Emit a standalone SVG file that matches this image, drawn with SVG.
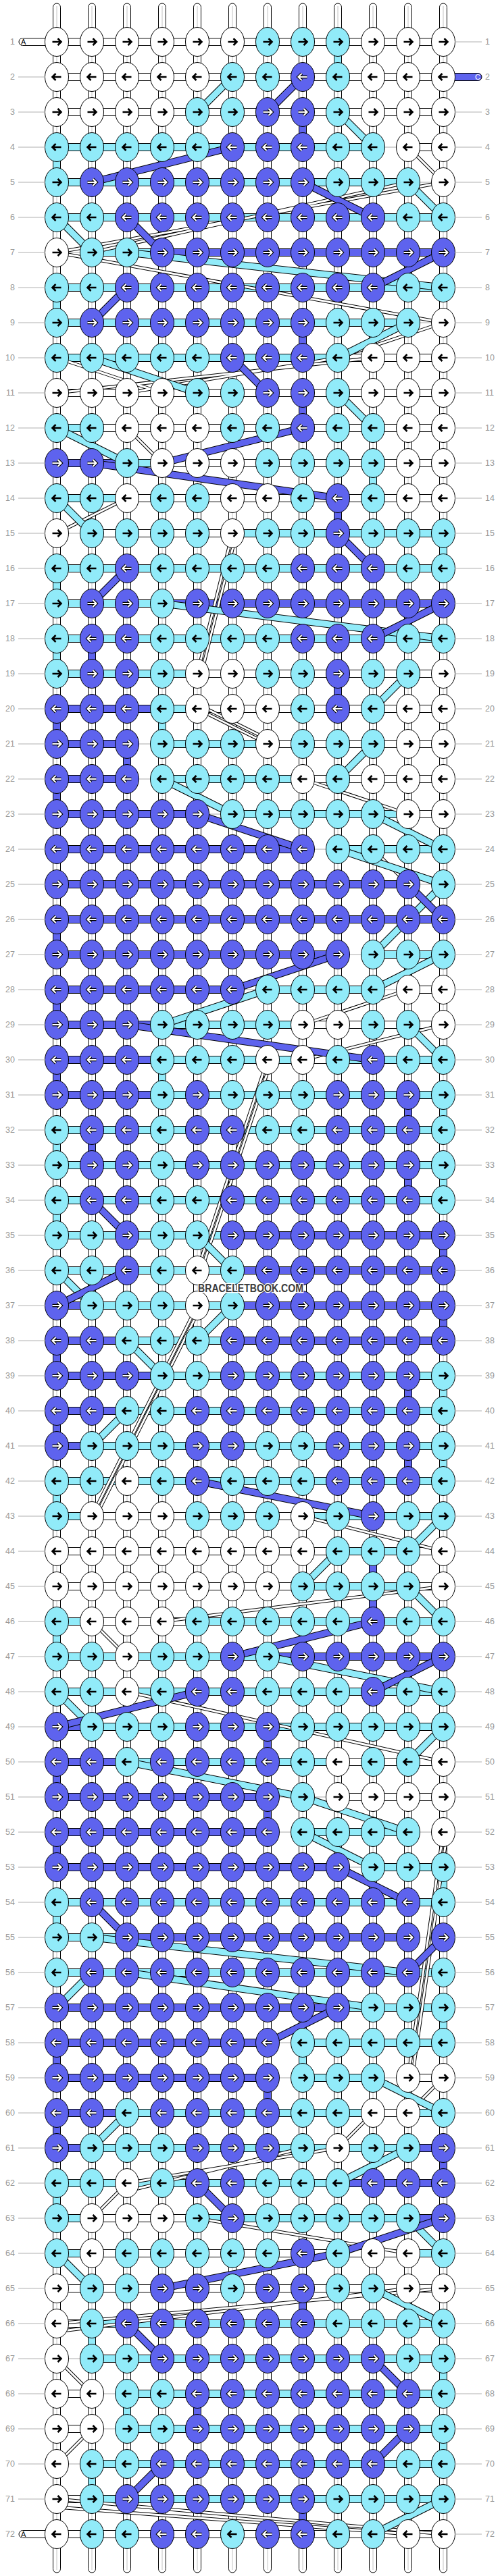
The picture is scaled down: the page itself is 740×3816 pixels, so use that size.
<svg xmlns="http://www.w3.org/2000/svg" xmlns:xlink="http://www.w3.org/1999/xlink" width="740" height="3816" viewBox="0 0 740 3816">
<style>
.w{fill:#fff;stroke:#000;stroke-width:1}
.c{fill:#91ebf9;stroke:#000;stroke-width:1}
.b{fill:#5e63ee;stroke:#000;stroke-width:1}
.g{stroke:#aaa;stroke-width:1}
.vc{stroke:#c4c4c4;stroke-width:1}
.ak{fill:none;stroke:#000;stroke-width:2.6}
.ao{fill:none;stroke:#000;stroke-width:4.4}
.aw{fill:none;stroke:#fff;stroke-width:2.2}
.lb{font-family:"Liberation Sans",Arial,sans-serif;font-size:12.5px;fill:#999;dominant-baseline:central}
.ld{stroke:#b0b0b0;stroke-width:1;fill:none}
.pl{font-family:"Liberation Sans",Arial,sans-serif;font-size:11px;dominant-baseline:central}
.wm{font-family:"Liberation Sans",Arial,sans-serif;font-weight:bold;font-size:16px;fill:#3c3c3c;stroke:#fff;stroke-width:2.5;paint-order:stroke;dominant-baseline:central}
</style>
<defs>
<path id="pr" d="M-6.5 0H6M1.5-5L6.5 0 1.5 5"/>
<path id="pl" d="M6.5 0H-6M-1.5-5L-6.5 0-1.5 5"/>
<g id="W1"><ellipse rx="17.5" ry="21.5" class="w"/><use href="#pr" class="ak"/></g>
<g id="W0"><ellipse rx="17.5" ry="21.5" class="w"/><use href="#pl" class="ak"/></g>
<g id="C1"><ellipse rx="17.5" ry="21.5" class="c"/><use href="#pr" class="ak"/></g>
<g id="C0"><ellipse rx="17.5" ry="21.5" class="c"/><use href="#pl" class="ak"/></g>
<g id="B1"><ellipse rx="17.5" ry="21.5" class="b"/><use href="#pr" class="ao"/><use href="#pr" class="aw"/></g>
<g id="B0"><ellipse rx="17.5" ry="21.5" class="b"/><use href="#pl" class="ao"/><use href="#pl" class="aw"/></g>
<path id="dW" d="M604 218L656 270M656 270L84 374M604 270L136 374M84 374L656 478M656 478L500 530M552 530L84 582M500 530L188 582M84 530L240 582M188 634L240 686M188 738L84 790M344 790L292 998M350 790L298 998M292 1050L396 1102M298 1046L402 1098M448 1154L604 1206M552 1258L604 1310M604 1466L448 1518M656 1518L448 1570M396 1570L292 1882M402 1570L298 1882M292 1934L136 2246M298 1934L142 2246M448 2246L656 2298M656 2350L240 2402M136 2402L188 2454M188 2506L656 2610M656 2714L604 3078M662 2714L610 3078M656 3078L604 3130M552 3130L500 3182M500 3182L188 3234M448 3182L188 3246M188 3234L136 3286M292 3286L604 3338M656 3390L84 3442M604 3390L84 3454M84 3494L136 3546M136 3598L84 3650M84 3702L656 3754M84 3714L604 3754"/>
<path id="dC" d="M344 114L292 166M500 166L552 218M604 270L656 322M84 322L136 374M188 374L656 426M604 478L500 530M136 530L292 582M500 582L552 634M84 634L188 686M84 738L136 790M240 894L656 946M604 998L552 1050M552 1102L500 1154M240 1154L344 1206M552 1206L656 1258M500 1258L656 1310M656 1310L552 1414M656 1414L552 1466M396 1466L240 1518M604 1518L656 1570M292 1830L344 1882M84 1882L136 1934M344 1934L292 1986M188 1986L240 2038M188 2090L136 2142M656 2246L604 2298M500 2298L448 2350M604 2350L656 2402M396 2454L656 2506M84 2506L136 2558M656 2558L604 2610M188 2610L448 2662M448 2662L604 2714M448 2714L552 2766M136 2870L604 2922M136 2922L84 2974M188 2922L552 2974M552 3078L656 3130M188 3130L136 3182M604 3182L500 3234M604 3286L656 3338M84 3338L136 3390M552 3390L656 3442M656 3702L552 3754"/>
<path id="dB" d="M448 114L396 166M344 218L136 270M448 270L552 322M188 322L240 374M656 374L552 426M188 426L136 478M344 530L396 582M448 634L240 686M136 686L500 738M500 790L552 842M188 842L136 894M656 894L552 946M292 1206L448 1258M604 1310L656 1362M500 1414L344 1466M188 1518L552 1570M136 1778L188 1830M188 1882L84 1934M292 2194L552 2246M552 2402L344 2454M656 2454L552 2506M292 2506L84 2558M500 2766L604 2818M136 2818L188 2870M656 2870L604 2922M500 2974L396 3026M292 3234L344 3286M656 3286L500 3338M500 3338L240 3390M188 3442L240 3494M552 3494L604 3546M604 3598L552 3650M240 3650L188 3702"/>
</defs>
<g id="connectors">
<g id="strands">
<rect x="78.5" y="5" width="11" height="3806" rx="5.5" class="w"/><rect x="130.5" y="5" width="11" height="3806" rx="5.5" class="w"/><rect x="182.5" y="5" width="11" height="3806" rx="5.5" class="w"/><rect x="234.5" y="5" width="11" height="3806" rx="5.5" class="w"/><rect x="286.5" y="5" width="11" height="3806" rx="5.5" class="w"/><rect x="338.5" y="5" width="11" height="3806" rx="5.5" class="w"/><rect x="390.5" y="5" width="11" height="3806" rx="5.5" class="w"/><rect x="442.5" y="5" width="11" height="3806" rx="5.5" class="w"/><rect x="494.5" y="5" width="11" height="3806" rx="5.5" class="w"/><rect x="546.5" y="5" width="11" height="3806" rx="5.5" class="w"/><rect x="598.5" y="5" width="11" height="3806" rx="5.5" class="w"/><rect x="650.5" y="5" width="11" height="3806" rx="5.5" class="w"/>
<path class="vc" d="M84 9V3807M136 9V3807M188 9V3807M240 9V3807M292 9V3807M344 9V3807M396 9V3807M448 9V3807M500 9V3807M552 9V3807M604 9V3807M656 9V3807"/>
<path class="c" d="M494.5 62h11v52h-11zM78.5 218h11v52h-11zM78.5 426h11v52h-11zM546.5 686h11v52h-11zM650.5 790h11v52h-11zM78.5 842h11v52h-11zM78.5 946h11v52h-11zM234.5 1050h11v52h-11zM234.5 1570h11v52h-11zM650.5 1622h11v52h-11zM78.5 1674h11v52h-11zM650.5 1726h11v52h-11zM78.5 1778h11v52h-11zM650.5 2038h11v52h-11zM650.5 2142h11v52h-11zM78.5 2194h11v52h-11zM78.5 2402h11v52h-11zM650.5 2766h11v52h-11zM78.5 2818h11v52h-11zM650.5 2974h11v52h-11zM442.5 3026h11v52h-11zM78.5 3234h11v52h-11zM130.5 3442h11v52h-11zM650.5 3494h11v52h-11zM182.5 3546h11v52h-11zM650.5 3598h11v52h-11zM130.5 3650h11v52h-11z"/>
<path class="b" d="M442.5 166h11v52h-11zM442.5 478h11v52h-11zM442.5 582h11v52h-11zM494.5 738h11v52h-11zM130.5 946h11v52h-11zM494.5 998h11v52h-11zM78.5 1050h11v52h-11zM182.5 1102h11v52h-11zM78.5 1154h11v52h-11zM78.5 1362h11v52h-11zM78.5 1466h11v52h-11zM78.5 1570h11v52h-11zM598.5 1622h11v52h-11zM130.5 1674h11v52h-11zM598.5 1726h11v52h-11zM650.5 1830h11v52h-11zM650.5 1934h11v52h-11zM78.5 1986h11v52h-11zM598.5 2038h11v52h-11zM78.5 2090h11v52h-11zM598.5 2142h11v52h-11zM546.5 2298h11v52h-11zM546.5 2350h11v52h-11zM390.5 2558h11v52h-11zM78.5 2610h11v52h-11zM390.5 2662h11v52h-11zM78.5 2714h11v52h-11zM78.5 3026h11v52h-11zM390.5 3078h11v52h-11zM78.5 3130h11v52h-11zM650.5 3182h11v52h-11zM442.5 3390h11v52h-11zM286.5 3546h11v52h-11zM442.5 3702h11v52h-11z"/>
</g>
<g id="bars">
<g transform="translate(0,62)"><rect x="84" y="-5.5" width="572" height="11" class="w"/></g>
<g transform="translate(0,114)"><rect x="84" y="-5.5" width="572" height="11" class="w"/></g>
<g transform="translate(0,166)"><rect x="84" y="-5.5" width="572" height="11" class="w"/></g>
<g transform="translate(0,218)"><rect x="84" y="-5.5" width="468" height="11" class="c"/><path class="g" d="M552 0H604"/><rect x="604" y="-5.5" width="52" height="11" class="w"/></g>
<g transform="translate(0,270)"><rect x="84" y="-5.5" width="520" height="11" class="c"/><path class="g" d="M604 0H656"/></g>
<g transform="translate(0,322)"><rect x="84" y="-5.5" width="572" height="11" class="c"/></g>
<g transform="translate(0,374)"><path class="g" d="M84 0H136"/><rect x="136" y="-5.5" width="104" height="11" class="c"/><rect x="240" y="-5.5" width="416" height="11" class="b"/></g>
<g transform="translate(0,426)"><rect x="84" y="-5.5" width="572" height="11" class="c"/></g>
<g transform="translate(0,478)"><rect x="84" y="-5.5" width="520" height="11" class="c"/><path class="g" d="M604 0H656"/></g>
<g transform="translate(0,530)"><rect x="84" y="-5.5" width="416" height="11" class="c"/><rect x="500" y="-5.5" width="156" height="11" class="w"/></g>
<g transform="translate(0,582)"><rect x="84" y="-5.5" width="572" height="11" class="w"/></g>
<g transform="translate(0,634)"><rect x="84" y="-5.5" width="52" height="11" class="c"/><rect x="136" y="-5.5" width="520" height="11" class="w"/></g>
<g transform="translate(0,686)"><rect x="84" y="-5.5" width="104" height="11" class="b"/><rect x="188" y="-5.5" width="52" height="11" class="c"/><rect x="240" y="-5.5" width="416" height="11" class="w"/></g>
<g transform="translate(0,738)"><rect x="84" y="-5.5" width="104" height="11" class="c"/><rect x="188" y="-5.5" width="468" height="11" class="w"/></g>
<g transform="translate(0,790)"><path class="g" d="M84 0H136"/><rect x="136" y="-5.5" width="208" height="11" class="w"/><rect x="344" y="-5.5" width="312" height="11" class="c"/></g>
<g transform="translate(0,842)"><rect x="84" y="-5.5" width="572" height="11" class="c"/></g>
<g transform="translate(0,894)"><rect x="84" y="-5.5" width="156" height="11" class="c"/><rect x="240" y="-5.5" width="416" height="11" class="b"/></g>
<g transform="translate(0,946)"><rect x="84" y="-5.5" width="572" height="11" class="c"/></g>
<g transform="translate(0,998)"><rect x="84" y="-5.5" width="208" height="11" class="c"/><rect x="292" y="-5.5" width="364" height="11" class="w"/></g>
<g transform="translate(0,1050)"><rect x="84" y="-5.5" width="156" height="11" class="b"/><rect x="240" y="-5.5" width="52" height="11" class="c"/><rect x="292" y="-5.5" width="364" height="11" class="w"/></g>
<g transform="translate(0,1102)"><rect x="84" y="-5.5" width="104" height="11" class="b"/><path class="g" d="M188 0H240"/><rect x="240" y="-5.5" width="156" height="11" class="c"/><rect x="396" y="-5.5" width="260" height="11" class="w"/></g>
<g transform="translate(0,1154)"><rect x="84" y="-5.5" width="104" height="11" class="b"/><path class="g" d="M188 0H240"/><rect x="240" y="-5.5" width="208" height="11" class="c"/><rect x="448" y="-5.5" width="208" height="11" class="w"/></g>
<g transform="translate(0,1206)"><rect x="84" y="-5.5" width="208" height="11" class="b"/><path class="g" d="M292 0H344"/><rect x="344" y="-5.5" width="260" height="11" class="c"/><rect x="604" y="-5.5" width="52" height="11" class="w"/></g>
<g transform="translate(0,1258)"><rect x="84" y="-5.5" width="364" height="11" class="b"/><path class="g" d="M448 0H500"/><rect x="500" y="-5.5" width="156" height="11" class="c"/></g>
<g transform="translate(0,1310)"><rect x="84" y="-5.5" width="520" height="11" class="b"/><path class="g" d="M604 0H656"/></g>
<g transform="translate(0,1362)"><rect x="84" y="-5.5" width="572" height="11" class="b"/></g>
<g transform="translate(0,1414)"><rect x="84" y="-5.5" width="416" height="11" class="b"/><path class="g" d="M500 0H552"/><rect x="552" y="-5.5" width="104" height="11" class="c"/></g>
<g transform="translate(0,1466)"><rect x="84" y="-5.5" width="260" height="11" class="b"/><path class="g" d="M344 0H396M552 0H604"/><rect x="396" y="-5.5" width="156" height="11" class="c"/><rect x="604" y="-5.5" width="52" height="11" class="w"/></g>
<g transform="translate(0,1518)"><rect x="84" y="-5.5" width="156" height="11" class="b"/><rect x="240" y="-5.5" width="208" height="11" class="c"/><rect x="448" y="-5.5" width="208" height="11" class="w"/></g>
<g transform="translate(0,1570)"><rect x="84" y="-5.5" width="156" height="11" class="b"/><rect x="240" y="-5.5" width="208" height="11" class="c"/><rect x="448" y="-5.5" width="52" height="11" class="w"/><rect x="500" y="-5.5" width="156" height="11" class="c"/></g>
<g transform="translate(0,1622)"><rect x="84" y="-5.5" width="156" height="11" class="b"/><rect x="240" y="-5.5" width="416" height="11" class="c"/></g>
<g transform="translate(0,1674)"><rect x="84" y="-5.5" width="572" height="11" class="c"/></g>
<g transform="translate(0,1726)"><rect x="84" y="-5.5" width="572" height="11" class="c"/></g>
<g transform="translate(0,1778)"><rect x="84" y="-5.5" width="572" height="11" class="c"/></g>
<g transform="translate(0,1830)"><rect x="84" y="-5.5" width="260" height="11" class="c"/><rect x="344" y="-5.5" width="312" height="11" class="b"/></g>
<g transform="translate(0,1882)"><rect x="84" y="-5.5" width="260" height="11" class="c"/><rect x="344" y="-5.5" width="312" height="11" class="b"/></g>
<g transform="translate(0,1934)"><rect x="84" y="-5.5" width="52" height="11" class="b"/><rect x="136" y="-5.5" width="208" height="11" class="c"/><rect x="344" y="-5.5" width="312" height="11" class="b"/></g>
<g transform="translate(0,1986)"><rect x="84" y="-5.5" width="104" height="11" class="b"/><rect x="188" y="-5.5" width="156" height="11" class="c"/><rect x="344" y="-5.5" width="312" height="11" class="b"/></g>
<g transform="translate(0,2038)"><rect x="84" y="-5.5" width="156" height="11" class="b"/><rect x="240" y="-5.5" width="416" height="11" class="c"/></g>
<g transform="translate(0,2090)"><rect x="84" y="-5.5" width="104" height="11" class="b"/><rect x="188" y="-5.5" width="468" height="11" class="c"/></g>
<g transform="translate(0,2142)"><rect x="84" y="-5.5" width="52" height="11" class="b"/><rect x="136" y="-5.5" width="520" height="11" class="c"/></g>
<g transform="translate(0,2194)"><rect x="84" y="-5.5" width="572" height="11" class="c"/></g>
<g transform="translate(0,2246)"><rect x="84" y="-5.5" width="52" height="11" class="c"/><rect x="136" y="-5.5" width="312" height="11" class="w"/><rect x="448" y="-5.5" width="208" height="11" class="c"/></g>
<g transform="translate(0,2298)"><rect x="84" y="-5.5" width="416" height="11" class="w"/><rect x="500" y="-5.5" width="104" height="11" class="c"/><rect x="604" y="-5.5" width="52" height="11" class="w"/></g>
<g transform="translate(0,2350)"><rect x="84" y="-5.5" width="364" height="11" class="w"/><rect x="448" y="-5.5" width="156" height="11" class="c"/><rect x="604" y="-5.5" width="52" height="11" class="w"/></g>
<g transform="translate(0,2402)"><rect x="84" y="-5.5" width="52" height="11" class="c"/><rect x="136" y="-5.5" width="156" height="11" class="w"/><rect x="292" y="-5.5" width="364" height="11" class="c"/></g>
<g transform="translate(0,2454)"><rect x="84" y="-5.5" width="312" height="11" class="c"/><rect x="396" y="-5.5" width="260" height="11" class="b"/></g>
<g transform="translate(0,2506)"><rect x="84" y="-5.5" width="572" height="11" class="c"/></g>
<g transform="translate(0,2558)"><rect x="84" y="-5.5" width="52" height="11" class="b"/><rect x="136" y="-5.5" width="520" height="11" class="c"/></g>
<g transform="translate(0,2610)"><rect x="84" y="-5.5" width="104" height="11" class="b"/><rect x="188" y="-5.5" width="312" height="11" class="c"/><rect x="500" y="-5.5" width="156" height="11" class="w"/></g>
<g transform="translate(0,2662)"><rect x="84" y="-5.5" width="312" height="11" class="b"/><path class="g" d="M396 0H500"/><rect x="500" y="-5.5" width="156" height="11" class="w"/></g>
<g transform="translate(0,2714)"><rect x="84" y="-5.5" width="312" height="11" class="b"/><path class="g" d="M396 0H448M604 0H656"/><rect x="448" y="-5.5" width="156" height="11" class="c"/></g>
<g transform="translate(0,2766)"><rect x="84" y="-5.5" width="416" height="11" class="b"/><path class="g" d="M500 0H552"/><rect x="552" y="-5.5" width="104" height="11" class="c"/></g>
<g transform="translate(0,2818)"><rect x="84" y="-5.5" width="572" height="11" class="c"/></g>
<g transform="translate(0,2870)"><rect x="84" y="-5.5" width="104" height="11" class="c"/><rect x="188" y="-5.5" width="416" height="11" class="b"/><path class="g" d="M604 0H656"/></g>
<g transform="translate(0,2922)"><rect x="84" y="-5.5" width="572" height="11" class="c"/></g>
<g transform="translate(0,2974)"><rect x="84" y="-5.5" width="416" height="11" class="b"/><rect x="500" y="-5.5" width="156" height="11" class="c"/></g>
<g transform="translate(0,3026)"><rect x="84" y="-5.5" width="312" height="11" class="b"/><path class="g" d="M396 0H448"/><rect x="448" y="-5.5" width="208" height="11" class="c"/></g>
<g transform="translate(0,3078)"><rect x="84" y="-5.5" width="312" height="11" class="b"/><path class="g" d="M396 0H448M552 0H604"/><rect x="448" y="-5.5" width="104" height="11" class="c"/><rect x="604" y="-5.5" width="52" height="11" class="w"/></g>
<g transform="translate(0,3130)"><rect x="84" y="-5.5" width="104" height="11" class="b"/><rect x="188" y="-5.5" width="364" height="11" class="c"/><rect x="552" y="-5.5" width="52" height="11" class="w"/><rect x="604" y="-5.5" width="52" height="11" class="c"/></g>
<g transform="translate(0,3182)"><rect x="84" y="-5.5" width="52" height="11" class="b"/><rect x="136" y="-5.5" width="468" height="11" class="c"/><rect x="604" y="-5.5" width="52" height="11" class="b"/></g>
<g transform="translate(0,3234)"><rect x="84" y="-5.5" width="416" height="11" class="c"/><rect x="500" y="-5.5" width="156" height="11" class="b"/></g>
<g transform="translate(0,3286)"><rect x="84" y="-5.5" width="52" height="11" class="c"/><rect x="136" y="-5.5" width="156" height="11" class="w"/><rect x="292" y="-5.5" width="312" height="11" class="c"/><rect x="604" y="-5.5" width="52" height="11" class="b"/></g>
<g transform="translate(0,3338)"><rect x="84" y="-5.5" width="52" height="11" class="c"/><rect x="136" y="-5.5" width="468" height="11" class="w"/><rect x="604" y="-5.5" width="52" height="11" class="c"/></g>
<g transform="translate(0,3390)"><rect x="84" y="-5.5" width="572" height="11" class="w"/></g>
<g transform="translate(0,3442)"><rect x="84" y="-5.5" width="52" height="11" class="w"/><rect x="136" y="-5.5" width="520" height="11" class="c"/></g>
<g transform="translate(0,3494)"><path class="g" d="M84 0H136"/><rect x="136" y="-5.5" width="520" height="11" class="c"/></g>
<g transform="translate(0,3546)"><rect x="84" y="-5.5" width="52" height="11" class="w"/><path class="g" d="M136 0H188"/><rect x="188" y="-5.5" width="468" height="11" class="c"/></g>
<g transform="translate(0,3598)"><rect x="84" y="-5.5" width="52" height="11" class="w"/><path class="g" d="M136 0H188"/><rect x="188" y="-5.5" width="468" height="11" class="c"/></g>
<g transform="translate(0,3650)"><path class="g" d="M84 0H136"/><rect x="136" y="-5.5" width="520" height="11" class="c"/></g>
<g transform="translate(0,3702)"><rect x="84" y="-5.5" width="52" height="11" class="w"/><rect x="136" y="-5.5" width="520" height="11" class="c"/></g>
<g transform="translate(0,3754)"><rect x="84" y="-5.5" width="572" height="11" class="w"/></g>
</g>
<g id="diagonals" fill="none">
<use href="#dW" stroke="#000" stroke-width="5"/><use href="#dW" stroke="#fff" stroke-width="3"/>
<use href="#dC" stroke="#000" stroke-width="11"/><use href="#dC" stroke="#91ebf9" stroke-width="9"/>
<use href="#dB" stroke="#000" stroke-width="11"/><use href="#dB" stroke="#5e63ee" stroke-width="9"/>
</g>
</g>
<g id="ends">
<rect x="28" y="56.5" width="60" height="11" rx="5.5" class="w"/><text x="31" y="62" class="pl">A</text>
<rect x="28" y="3748.5" width="60" height="11" rx="5.5" class="w"/><text x="31" y="3754" class="pl">A</text>
<rect x="650" y="108.5" width="63" height="11" rx="5.5" class="b"/><text x="703" y="114" class="pl" fill="#fff">C</text>
</g>
<g id="knots">
<g transform="translate(0,62)"><g id="n1-1"><use href="#W1" x="84"/></g><g id="n1-2"><use href="#W1" x="136"/></g><g id="n1-3"><use href="#W1" x="188"/></g><g id="n1-4"><use href="#W1" x="240"/></g><g id="n1-5"><use href="#W1" x="292"/></g><g id="n1-6"><use href="#W1" x="344"/></g><g id="n1-7"><use href="#C1" x="396"/></g><g id="n1-8"><use href="#C1" x="448"/></g><g id="n1-9"><use href="#C1" x="500"/></g><g id="n1-10"><use href="#W1" x="552"/></g><g id="n1-11"><use href="#W1" x="604"/></g><g id="n1-12"><use href="#W1" x="656"/></g></g>
<g transform="translate(0,114)"><g id="n2-1"><use href="#W0" x="84"/></g><g id="n2-2"><use href="#W0" x="136"/></g><g id="n2-3"><use href="#W0" x="188"/></g><g id="n2-4"><use href="#W0" x="240"/></g><g id="n2-5"><use href="#W0" x="292"/></g><g id="n2-6"><use href="#C0" x="344"/></g><g id="n2-7"><use href="#C0" x="396"/></g><g id="n2-8"><use href="#B0" x="448"/></g><g id="n2-9"><use href="#C0" x="500"/></g><g id="n2-10"><use href="#W0" x="552"/></g><g id="n2-11"><use href="#W0" x="604"/></g><g id="n2-12"><use href="#W0" x="656"/></g></g>
<g transform="translate(0,166)"><g id="n3-1"><use href="#W1" x="84"/></g><g id="n3-2"><use href="#W1" x="136"/></g><g id="n3-3"><use href="#W1" x="188"/></g><g id="n3-4"><use href="#W1" x="240"/></g><g id="n3-5"><use href="#C1" x="292"/></g><g id="n3-6"><use href="#C1" x="344"/></g><g id="n3-7"><use href="#B1" x="396"/></g><g id="n3-8"><use href="#B1" x="448"/></g><g id="n3-9"><use href="#C1" x="500"/></g><g id="n3-10"><use href="#W1" x="552"/></g><g id="n3-11"><use href="#W1" x="604"/></g><g id="n3-12"><use href="#W1" x="656"/></g></g>
<g transform="translate(0,218)"><g id="n4-1"><use href="#C0" x="84"/></g><g id="n4-2"><use href="#C0" x="136"/></g><g id="n4-3"><use href="#C0" x="188"/></g><g id="n4-4"><use href="#C0" x="240"/></g><g id="n4-5"><use href="#C0" x="292"/></g><g id="n4-6"><use href="#B0" x="344"/></g><g id="n4-7"><use href="#B0" x="396"/></g><g id="n4-8"><use href="#B0" x="448"/></g><g id="n4-9"><use href="#C0" x="500"/></g><g id="n4-10"><use href="#C0" x="552"/></g><g id="n4-11"><use href="#W0" x="604"/></g><g id="n4-12"><use href="#W0" x="656"/></g></g>
<g transform="translate(0,270)"><g id="n5-1"><use href="#C1" x="84"/></g><g id="n5-2"><use href="#B1" x="136"/></g><g id="n5-3"><use href="#B1" x="188"/></g><g id="n5-4"><use href="#B1" x="240"/></g><g id="n5-5"><use href="#B1" x="292"/></g><g id="n5-6"><use href="#B1" x="344"/></g><g id="n5-7"><use href="#B1" x="396"/></g><g id="n5-8"><use href="#B1" x="448"/></g><g id="n5-9"><use href="#C1" x="500"/></g><g id="n5-10"><use href="#C1" x="552"/></g><g id="n5-11"><use href="#C1" x="604"/></g><g id="n5-12"><use href="#W1" x="656"/></g></g>
<g transform="translate(0,322)"><g id="n6-1"><use href="#C0" x="84"/></g><g id="n6-2"><use href="#C0" x="136"/></g><g id="n6-3"><use href="#B0" x="188"/></g><g id="n6-4"><use href="#B0" x="240"/></g><g id="n6-5"><use href="#B0" x="292"/></g><g id="n6-6"><use href="#B0" x="344"/></g><g id="n6-7"><use href="#B0" x="396"/></g><g id="n6-8"><use href="#B0" x="448"/></g><g id="n6-9"><use href="#B0" x="500"/></g><g id="n6-10"><use href="#B0" x="552"/></g><g id="n6-11"><use href="#C0" x="604"/></g><g id="n6-12"><use href="#C0" x="656"/></g></g>
<g transform="translate(0,374)"><g id="n7-1"><use href="#W1" x="84"/></g><g id="n7-2"><use href="#C1" x="136"/></g><g id="n7-3"><use href="#C1" x="188"/></g><g id="n7-4"><use href="#B1" x="240"/></g><g id="n7-5"><use href="#B1" x="292"/></g><g id="n7-6"><use href="#B1" x="344"/></g><g id="n7-7"><use href="#B1" x="396"/></g><g id="n7-8"><use href="#B1" x="448"/></g><g id="n7-9"><use href="#B1" x="500"/></g><g id="n7-10"><use href="#B1" x="552"/></g><g id="n7-11"><use href="#B1" x="604"/></g><g id="n7-12"><use href="#B1" x="656"/></g></g>
<g transform="translate(0,426)"><g id="n8-1"><use href="#C0" x="84"/></g><g id="n8-2"><use href="#C0" x="136"/></g><g id="n8-3"><use href="#B0" x="188"/></g><g id="n8-4"><use href="#B0" x="240"/></g><g id="n8-5"><use href="#B0" x="292"/></g><g id="n8-6"><use href="#B0" x="344"/></g><g id="n8-7"><use href="#B0" x="396"/></g><g id="n8-8"><use href="#B0" x="448"/></g><g id="n8-9"><use href="#B0" x="500"/></g><g id="n8-10"><use href="#B0" x="552"/></g><g id="n8-11"><use href="#C0" x="604"/></g><g id="n8-12"><use href="#C0" x="656"/></g></g>
<g transform="translate(0,478)"><g id="n9-1"><use href="#C1" x="84"/></g><g id="n9-2"><use href="#B1" x="136"/></g><g id="n9-3"><use href="#B1" x="188"/></g><g id="n9-4"><use href="#B1" x="240"/></g><g id="n9-5"><use href="#B1" x="292"/></g><g id="n9-6"><use href="#B1" x="344"/></g><g id="n9-7"><use href="#B1" x="396"/></g><g id="n9-8"><use href="#B1" x="448"/></g><g id="n9-9"><use href="#C1" x="500"/></g><g id="n9-10"><use href="#C1" x="552"/></g><g id="n9-11"><use href="#C1" x="604"/></g><g id="n9-12"><use href="#W1" x="656"/></g></g>
<g transform="translate(0,530)"><g id="n10-1"><use href="#C0" x="84"/></g><g id="n10-2"><use href="#C0" x="136"/></g><g id="n10-3"><use href="#C0" x="188"/></g><g id="n10-4"><use href="#C0" x="240"/></g><g id="n10-5"><use href="#C0" x="292"/></g><g id="n10-6"><use href="#B0" x="344"/></g><g id="n10-7"><use href="#B0" x="396"/></g><g id="n10-8"><use href="#B0" x="448"/></g><g id="n10-9"><use href="#C0" x="500"/></g><g id="n10-10"><use href="#W0" x="552"/></g><g id="n10-11"><use href="#W0" x="604"/></g><g id="n10-12"><use href="#W0" x="656"/></g></g>
<g transform="translate(0,582)"><g id="n11-1"><use href="#W1" x="84"/></g><g id="n11-2"><use href="#W1" x="136"/></g><g id="n11-3"><use href="#W1" x="188"/></g><g id="n11-4"><use href="#W1" x="240"/></g><g id="n11-5"><use href="#C1" x="292"/></g><g id="n11-6"><use href="#C1" x="344"/></g><g id="n11-7"><use href="#B1" x="396"/></g><g id="n11-8"><use href="#B1" x="448"/></g><g id="n11-9"><use href="#C1" x="500"/></g><g id="n11-10"><use href="#W1" x="552"/></g><g id="n11-11"><use href="#W1" x="604"/></g><g id="n11-12"><use href="#W1" x="656"/></g></g>
<g transform="translate(0,634)"><g id="n12-1"><use href="#C0" x="84"/></g><g id="n12-2"><use href="#C0" x="136"/></g><g id="n12-3"><use href="#W0" x="188"/></g><g id="n12-4"><use href="#W0" x="240"/></g><g id="n12-5"><use href="#W0" x="292"/></g><g id="n12-6"><use href="#C0" x="344"/></g><g id="n12-7"><use href="#C0" x="396"/></g><g id="n12-8"><use href="#B0" x="448"/></g><g id="n12-9"><use href="#C0" x="500"/></g><g id="n12-10"><use href="#C0" x="552"/></g><g id="n12-11"><use href="#W0" x="604"/></g><g id="n12-12"><use href="#W0" x="656"/></g></g>
<g transform="translate(0,686)"><g id="n13-1"><use href="#B1" x="84"/></g><g id="n13-2"><use href="#B1" x="136"/></g><g id="n13-3"><use href="#C1" x="188"/></g><g id="n13-4"><use href="#W1" x="240"/></g><g id="n13-5"><use href="#W1" x="292"/></g><g id="n13-6"><use href="#W1" x="344"/></g><g id="n13-7"><use href="#C1" x="396"/></g><g id="n13-8"><use href="#C1" x="448"/></g><g id="n13-9"><use href="#C1" x="500"/></g><g id="n13-10"><use href="#C1" x="552"/></g><g id="n13-11"><use href="#W1" x="604"/></g><g id="n13-12"><use href="#W1" x="656"/></g></g>
<g transform="translate(0,738)"><g id="n14-1"><use href="#C0" x="84"/></g><g id="n14-2"><use href="#C0" x="136"/></g><g id="n14-3"><use href="#W0" x="188"/></g><g id="n14-4"><use href="#C0" x="240"/></g><g id="n14-5"><use href="#C0" x="292"/></g><g id="n14-6"><use href="#W0" x="344"/></g><g id="n14-7"><use href="#W0" x="396"/></g><g id="n14-8"><use href="#C0" x="448"/></g><g id="n14-9"><use href="#B0" x="500"/></g><g id="n14-10"><use href="#C0" x="552"/></g><g id="n14-11"><use href="#W0" x="604"/></g><g id="n14-12"><use href="#W0" x="656"/></g></g>
<g transform="translate(0,790)"><g id="n15-1"><use href="#W1" x="84"/></g><g id="n15-2"><use href="#C1" x="136"/></g><g id="n15-3"><use href="#C1" x="188"/></g><g id="n15-4"><use href="#C1" x="240"/></g><g id="n15-5"><use href="#C1" x="292"/></g><g id="n15-6"><use href="#W1" x="344"/></g><g id="n15-7"><use href="#C1" x="396"/></g><g id="n15-8"><use href="#C1" x="448"/></g><g id="n15-9"><use href="#B1" x="500"/></g><g id="n15-10"><use href="#C1" x="552"/></g><g id="n15-11"><use href="#C1" x="604"/></g><g id="n15-12"><use href="#C1" x="656"/></g></g>
<g transform="translate(0,842)"><g id="n16-1"><use href="#C0" x="84"/></g><g id="n16-2"><use href="#C0" x="136"/></g><g id="n16-3"><use href="#B0" x="188"/></g><g id="n16-4"><use href="#C0" x="240"/></g><g id="n16-5"><use href="#C0" x="292"/></g><g id="n16-6"><use href="#C0" x="344"/></g><g id="n16-7"><use href="#C0" x="396"/></g><g id="n16-8"><use href="#B0" x="448"/></g><g id="n16-9"><use href="#B0" x="500"/></g><g id="n16-10"><use href="#B0" x="552"/></g><g id="n16-11"><use href="#C0" x="604"/></g><g id="n16-12"><use href="#C0" x="656"/></g></g>
<g transform="translate(0,894)"><g id="n17-1"><use href="#C1" x="84"/></g><g id="n17-2"><use href="#B1" x="136"/></g><g id="n17-3"><use href="#B1" x="188"/></g><g id="n17-4"><use href="#C1" x="240"/></g><g id="n17-5"><use href="#B1" x="292"/></g><g id="n17-6"><use href="#B1" x="344"/></g><g id="n17-7"><use href="#B1" x="396"/></g><g id="n17-8"><use href="#B1" x="448"/></g><g id="n17-9"><use href="#B1" x="500"/></g><g id="n17-10"><use href="#B1" x="552"/></g><g id="n17-11"><use href="#B1" x="604"/></g><g id="n17-12"><use href="#B1" x="656"/></g></g>
<g transform="translate(0,946)"><g id="n18-1"><use href="#C0" x="84"/></g><g id="n18-2"><use href="#B0" x="136"/></g><g id="n18-3"><use href="#B0" x="188"/></g><g id="n18-4"><use href="#C0" x="240"/></g><g id="n18-5"><use href="#C0" x="292"/></g><g id="n18-6"><use href="#C0" x="344"/></g><g id="n18-7"><use href="#C0" x="396"/></g><g id="n18-8"><use href="#B0" x="448"/></g><g id="n18-9"><use href="#B0" x="500"/></g><g id="n18-10"><use href="#B0" x="552"/></g><g id="n18-11"><use href="#C0" x="604"/></g><g id="n18-12"><use href="#C0" x="656"/></g></g>
<g transform="translate(0,998)"><g id="n19-1"><use href="#C1" x="84"/></g><g id="n19-2"><use href="#B1" x="136"/></g><g id="n19-3"><use href="#B1" x="188"/></g><g id="n19-4"><use href="#C1" x="240"/></g><g id="n19-5"><use href="#W1" x="292"/></g><g id="n19-6"><use href="#W1" x="344"/></g><g id="n19-7"><use href="#C1" x="396"/></g><g id="n19-8"><use href="#C1" x="448"/></g><g id="n19-9"><use href="#B1" x="500"/></g><g id="n19-10"><use href="#C1" x="552"/></g><g id="n19-11"><use href="#C1" x="604"/></g><g id="n19-12"><use href="#W1" x="656"/></g></g>
<g transform="translate(0,1050)"><g id="n20-1"><use href="#B0" x="84"/></g><g id="n20-2"><use href="#B0" x="136"/></g><g id="n20-3"><use href="#B0" x="188"/></g><g id="n20-4"><use href="#C0" x="240"/></g><g id="n20-5"><use href="#W0" x="292"/></g><g id="n20-6"><use href="#W0" x="344"/></g><g id="n20-7"><use href="#W0" x="396"/></g><g id="n20-8"><use href="#C0" x="448"/></g><g id="n20-9"><use href="#B0" x="500"/></g><g id="n20-10"><use href="#C0" x="552"/></g><g id="n20-11"><use href="#W0" x="604"/></g><g id="n20-12"><use href="#W0" x="656"/></g></g>
<g transform="translate(0,1102)"><g id="n21-1"><use href="#B1" x="84"/></g><g id="n21-2"><use href="#B1" x="136"/></g><g id="n21-3"><use href="#B1" x="188"/></g><g id="n21-4"><use href="#C1" x="240"/></g><g id="n21-5"><use href="#C1" x="292"/></g><g id="n21-6"><use href="#C1" x="344"/></g><g id="n21-7"><use href="#W1" x="396"/></g><g id="n21-8"><use href="#C1" x="448"/></g><g id="n21-9"><use href="#C1" x="500"/></g><g id="n21-10"><use href="#C1" x="552"/></g><g id="n21-11"><use href="#W1" x="604"/></g><g id="n21-12"><use href="#W1" x="656"/></g></g>
<g transform="translate(0,1154)"><g id="n22-1"><use href="#B0" x="84"/></g><g id="n22-2"><use href="#B0" x="136"/></g><g id="n22-3"><use href="#B0" x="188"/></g><g id="n22-4"><use href="#C0" x="240"/></g><g id="n22-5"><use href="#C0" x="292"/></g><g id="n22-6"><use href="#C0" x="344"/></g><g id="n22-7"><use href="#C0" x="396"/></g><g id="n22-8"><use href="#W0" x="448"/></g><g id="n22-9"><use href="#C0" x="500"/></g><g id="n22-10"><use href="#W0" x="552"/></g><g id="n22-11"><use href="#W0" x="604"/></g><g id="n22-12"><use href="#W0" x="656"/></g></g>
<g transform="translate(0,1206)"><g id="n23-1"><use href="#B1" x="84"/></g><g id="n23-2"><use href="#B1" x="136"/></g><g id="n23-3"><use href="#B1" x="188"/></g><g id="n23-4"><use href="#B1" x="240"/></g><g id="n23-5"><use href="#B1" x="292"/></g><g id="n23-6"><use href="#C1" x="344"/></g><g id="n23-7"><use href="#C1" x="396"/></g><g id="n23-8"><use href="#C1" x="448"/></g><g id="n23-9"><use href="#C1" x="500"/></g><g id="n23-10"><use href="#C1" x="552"/></g><g id="n23-11"><use href="#W1" x="604"/></g><g id="n23-12"><use href="#W1" x="656"/></g></g>
<g transform="translate(0,1258)"><g id="n24-1"><use href="#B0" x="84"/></g><g id="n24-2"><use href="#B0" x="136"/></g><g id="n24-3"><use href="#B0" x="188"/></g><g id="n24-4"><use href="#B0" x="240"/></g><g id="n24-5"><use href="#B0" x="292"/></g><g id="n24-6"><use href="#B0" x="344"/></g><g id="n24-7"><use href="#B0" x="396"/></g><g id="n24-8"><use href="#B0" x="448"/></g><g id="n24-9"><use href="#C0" x="500"/></g><g id="n24-10"><use href="#C0" x="552"/></g><g id="n24-11"><use href="#C0" x="604"/></g><g id="n24-12"><use href="#C0" x="656"/></g></g>
<g transform="translate(0,1310)"><g id="n25-1"><use href="#B1" x="84"/></g><g id="n25-2"><use href="#B1" x="136"/></g><g id="n25-3"><use href="#B1" x="188"/></g><g id="n25-4"><use href="#B1" x="240"/></g><g id="n25-5"><use href="#B1" x="292"/></g><g id="n25-6"><use href="#B1" x="344"/></g><g id="n25-7"><use href="#B1" x="396"/></g><g id="n25-8"><use href="#B1" x="448"/></g><g id="n25-9"><use href="#B1" x="500"/></g><g id="n25-10"><use href="#B1" x="552"/></g><g id="n25-11"><use href="#B1" x="604"/></g><g id="n25-12"><use href="#C1" x="656"/></g></g>
<g transform="translate(0,1362)"><g id="n26-1"><use href="#B0" x="84"/></g><g id="n26-2"><use href="#B0" x="136"/></g><g id="n26-3"><use href="#B0" x="188"/></g><g id="n26-4"><use href="#B0" x="240"/></g><g id="n26-5"><use href="#B0" x="292"/></g><g id="n26-6"><use href="#B0" x="344"/></g><g id="n26-7"><use href="#B0" x="396"/></g><g id="n26-8"><use href="#B0" x="448"/></g><g id="n26-9"><use href="#B0" x="500"/></g><g id="n26-10"><use href="#B0" x="552"/></g><g id="n26-11"><use href="#B0" x="604"/></g><g id="n26-12"><use href="#B0" x="656"/></g></g>
<g transform="translate(0,1414)"><g id="n27-1"><use href="#B1" x="84"/></g><g id="n27-2"><use href="#B1" x="136"/></g><g id="n27-3"><use href="#B1" x="188"/></g><g id="n27-4"><use href="#B1" x="240"/></g><g id="n27-5"><use href="#B1" x="292"/></g><g id="n27-6"><use href="#B1" x="344"/></g><g id="n27-7"><use href="#B1" x="396"/></g><g id="n27-8"><use href="#B1" x="448"/></g><g id="n27-9"><use href="#B1" x="500"/></g><g id="n27-10"><use href="#C1" x="552"/></g><g id="n27-11"><use href="#C1" x="604"/></g><g id="n27-12"><use href="#C1" x="656"/></g></g>
<g transform="translate(0,1466)"><g id="n28-1"><use href="#B0" x="84"/></g><g id="n28-2"><use href="#B0" x="136"/></g><g id="n28-3"><use href="#B0" x="188"/></g><g id="n28-4"><use href="#B0" x="240"/></g><g id="n28-5"><use href="#B0" x="292"/></g><g id="n28-6"><use href="#B0" x="344"/></g><g id="n28-7"><use href="#C0" x="396"/></g><g id="n28-8"><use href="#C0" x="448"/></g><g id="n28-9"><use href="#C0" x="500"/></g><g id="n28-10"><use href="#C0" x="552"/></g><g id="n28-11"><use href="#W0" x="604"/></g><g id="n28-12"><use href="#W0" x="656"/></g></g>
<g transform="translate(0,1518)"><g id="n29-1"><use href="#B1" x="84"/></g><g id="n29-2"><use href="#B1" x="136"/></g><g id="n29-3"><use href="#B1" x="188"/></g><g id="n29-4"><use href="#C1" x="240"/></g><g id="n29-5"><use href="#C1" x="292"/></g><g id="n29-6"><use href="#C1" x="344"/></g><g id="n29-7"><use href="#C1" x="396"/></g><g id="n29-8"><use href="#W1" x="448"/></g><g id="n29-9"><use href="#W1" x="500"/></g><g id="n29-10"><use href="#C1" x="552"/></g><g id="n29-11"><use href="#C1" x="604"/></g><g id="n29-12"><use href="#W1" x="656"/></g></g>
<g transform="translate(0,1570)"><g id="n30-1"><use href="#B0" x="84"/></g><g id="n30-2"><use href="#B0" x="136"/></g><g id="n30-3"><use href="#B0" x="188"/></g><g id="n30-4"><use href="#C0" x="240"/></g><g id="n30-5"><use href="#C0" x="292"/></g><g id="n30-6"><use href="#C0" x="344"/></g><g id="n30-7"><use href="#W0" x="396"/></g><g id="n30-8"><use href="#W0" x="448"/></g><g id="n30-9"><use href="#C0" x="500"/></g><g id="n30-10"><use href="#B0" x="552"/></g><g id="n30-11"><use href="#C0" x="604"/></g><g id="n30-12"><use href="#C0" x="656"/></g></g>
<g transform="translate(0,1622)"><g id="n31-1"><use href="#B1" x="84"/></g><g id="n31-2"><use href="#B1" x="136"/></g><g id="n31-3"><use href="#B1" x="188"/></g><g id="n31-4"><use href="#C1" x="240"/></g><g id="n31-5"><use href="#B1" x="292"/></g><g id="n31-6"><use href="#C1" x="344"/></g><g id="n31-7"><use href="#C1" x="396"/></g><g id="n31-8"><use href="#C1" x="448"/></g><g id="n31-9"><use href="#B1" x="500"/></g><g id="n31-10"><use href="#B1" x="552"/></g><g id="n31-11"><use href="#B1" x="604"/></g><g id="n31-12"><use href="#C1" x="656"/></g></g>
<g transform="translate(0,1674)"><g id="n32-1"><use href="#C0" x="84"/></g><g id="n32-2"><use href="#B0" x="136"/></g><g id="n32-3"><use href="#B0" x="188"/></g><g id="n32-4"><use href="#C0" x="240"/></g><g id="n32-5"><use href="#B0" x="292"/></g><g id="n32-6"><use href="#B0" x="344"/></g><g id="n32-7"><use href="#C0" x="396"/></g><g id="n32-8"><use href="#C0" x="448"/></g><g id="n32-9"><use href="#B0" x="500"/></g><g id="n32-10"><use href="#B0" x="552"/></g><g id="n32-11"><use href="#B0" x="604"/></g><g id="n32-12"><use href="#C0" x="656"/></g></g>
<g transform="translate(0,1726)"><g id="n33-1"><use href="#C1" x="84"/></g><g id="n33-2"><use href="#B1" x="136"/></g><g id="n33-3"><use href="#B1" x="188"/></g><g id="n33-4"><use href="#C1" x="240"/></g><g id="n33-5"><use href="#B1" x="292"/></g><g id="n33-6"><use href="#B1" x="344"/></g><g id="n33-7"><use href="#B1" x="396"/></g><g id="n33-8"><use href="#B1" x="448"/></g><g id="n33-9"><use href="#B1" x="500"/></g><g id="n33-10"><use href="#B1" x="552"/></g><g id="n33-11"><use href="#B1" x="604"/></g><g id="n33-12"><use href="#C1" x="656"/></g></g>
<g transform="translate(0,1778)"><g id="n34-1"><use href="#C0" x="84"/></g><g id="n34-2"><use href="#B0" x="136"/></g><g id="n34-3"><use href="#B0" x="188"/></g><g id="n34-4"><use href="#C0" x="240"/></g><g id="n34-5"><use href="#C0" x="292"/></g><g id="n34-6"><use href="#B0" x="344"/></g><g id="n34-7"><use href="#B0" x="396"/></g><g id="n34-8"><use href="#B0" x="448"/></g><g id="n34-9"><use href="#B0" x="500"/></g><g id="n34-10"><use href="#B0" x="552"/></g><g id="n34-11"><use href="#B0" x="604"/></g><g id="n34-12"><use href="#C0" x="656"/></g></g>
<g transform="translate(0,1830)"><g id="n35-1"><use href="#C1" x="84"/></g><g id="n35-2"><use href="#C1" x="136"/></g><g id="n35-3"><use href="#B1" x="188"/></g><g id="n35-4"><use href="#C1" x="240"/></g><g id="n35-5"><use href="#C1" x="292"/></g><g id="n35-6"><use href="#B1" x="344"/></g><g id="n35-7"><use href="#B1" x="396"/></g><g id="n35-8"><use href="#B1" x="448"/></g><g id="n35-9"><use href="#B1" x="500"/></g><g id="n35-10"><use href="#B1" x="552"/></g><g id="n35-11"><use href="#B1" x="604"/></g><g id="n35-12"><use href="#B1" x="656"/></g></g>
<g transform="translate(0,1882)"><g id="n36-1"><use href="#C0" x="84"/></g><g id="n36-2"><use href="#C0" x="136"/></g><g id="n36-3"><use href="#B0" x="188"/></g><g id="n36-4"><use href="#C0" x="240"/></g><g id="n36-5"><use href="#W0" x="292"/></g><g id="n36-6"><use href="#C0" x="344"/></g><g id="n36-7"><use href="#B0" x="396"/></g><g id="n36-8"><use href="#B0" x="448"/></g><g id="n36-9"><use href="#B0" x="500"/></g><g id="n36-10"><use href="#B0" x="552"/></g><g id="n36-11"><use href="#B0" x="604"/></g><g id="n36-12"><use href="#B0" x="656"/></g></g>
<g transform="translate(0,1934)"><g id="n37-1"><use href="#B1" x="84"/></g><g id="n37-2"><use href="#C1" x="136"/></g><g id="n37-3"><use href="#C1" x="188"/></g><g id="n37-4"><use href="#C1" x="240"/></g><g id="n37-5"><use href="#W1" x="292"/></g><g id="n37-6"><use href="#C1" x="344"/></g><g id="n37-7"><use href="#B1" x="396"/></g><g id="n37-8"><use href="#B1" x="448"/></g><g id="n37-9"><use href="#B1" x="500"/></g><g id="n37-10"><use href="#B1" x="552"/></g><g id="n37-11"><use href="#B1" x="604"/></g><g id="n37-12"><use href="#B1" x="656"/></g></g>
<g transform="translate(0,1986)"><g id="n38-1"><use href="#B0" x="84"/></g><g id="n38-2"><use href="#B0" x="136"/></g><g id="n38-3"><use href="#C0" x="188"/></g><g id="n38-4"><use href="#C0" x="240"/></g><g id="n38-5"><use href="#C0" x="292"/></g><g id="n38-6"><use href="#B0" x="344"/></g><g id="n38-7"><use href="#B0" x="396"/></g><g id="n38-8"><use href="#B0" x="448"/></g><g id="n38-9"><use href="#B0" x="500"/></g><g id="n38-10"><use href="#B0" x="552"/></g><g id="n38-11"><use href="#B0" x="604"/></g><g id="n38-12"><use href="#B0" x="656"/></g></g>
<g transform="translate(0,2038)"><g id="n39-1"><use href="#B1" x="84"/></g><g id="n39-2"><use href="#B1" x="136"/></g><g id="n39-3"><use href="#B1" x="188"/></g><g id="n39-4"><use href="#C1" x="240"/></g><g id="n39-5"><use href="#C1" x="292"/></g><g id="n39-6"><use href="#B1" x="344"/></g><g id="n39-7"><use href="#B1" x="396"/></g><g id="n39-8"><use href="#B1" x="448"/></g><g id="n39-9"><use href="#B1" x="500"/></g><g id="n39-10"><use href="#B1" x="552"/></g><g id="n39-11"><use href="#B1" x="604"/></g><g id="n39-12"><use href="#C1" x="656"/></g></g>
<g transform="translate(0,2090)"><g id="n40-1"><use href="#B0" x="84"/></g><g id="n40-2"><use href="#B0" x="136"/></g><g id="n40-3"><use href="#C0" x="188"/></g><g id="n40-4"><use href="#C0" x="240"/></g><g id="n40-5"><use href="#B0" x="292"/></g><g id="n40-6"><use href="#B0" x="344"/></g><g id="n40-7"><use href="#B0" x="396"/></g><g id="n40-8"><use href="#B0" x="448"/></g><g id="n40-9"><use href="#B0" x="500"/></g><g id="n40-10"><use href="#B0" x="552"/></g><g id="n40-11"><use href="#B0" x="604"/></g><g id="n40-12"><use href="#C0" x="656"/></g></g>
<g transform="translate(0,2142)"><g id="n41-1"><use href="#B1" x="84"/></g><g id="n41-2"><use href="#C1" x="136"/></g><g id="n41-3"><use href="#C1" x="188"/></g><g id="n41-4"><use href="#C1" x="240"/></g><g id="n41-5"><use href="#B1" x="292"/></g><g id="n41-6"><use href="#B1" x="344"/></g><g id="n41-7"><use href="#C1" x="396"/></g><g id="n41-8"><use href="#C1" x="448"/></g><g id="n41-9"><use href="#B1" x="500"/></g><g id="n41-10"><use href="#B1" x="552"/></g><g id="n41-11"><use href="#B1" x="604"/></g><g id="n41-12"><use href="#C1" x="656"/></g></g>
<g transform="translate(0,2194)"><g id="n42-1"><use href="#C0" x="84"/></g><g id="n42-2"><use href="#C0" x="136"/></g><g id="n42-3"><use href="#W0" x="188"/></g><g id="n42-4"><use href="#C0" x="240"/></g><g id="n42-5"><use href="#B0" x="292"/></g><g id="n42-6"><use href="#C0" x="344"/></g><g id="n42-7"><use href="#C0" x="396"/></g><g id="n42-8"><use href="#C0" x="448"/></g><g id="n42-9"><use href="#B0" x="500"/></g><g id="n42-10"><use href="#B0" x="552"/></g><g id="n42-11"><use href="#B0" x="604"/></g><g id="n42-12"><use href="#C0" x="656"/></g></g>
<g transform="translate(0,2246)"><g id="n43-1"><use href="#C1" x="84"/></g><g id="n43-2"><use href="#W1" x="136"/></g><g id="n43-3"><use href="#W1" x="188"/></g><g id="n43-4"><use href="#W1" x="240"/></g><g id="n43-5"><use href="#C1" x="292"/></g><g id="n43-6"><use href="#C1" x="344"/></g><g id="n43-7"><use href="#C1" x="396"/></g><g id="n43-8"><use href="#W1" x="448"/></g><g id="n43-9"><use href="#C1" x="500"/></g><g id="n43-10"><use href="#B1" x="552"/></g><g id="n43-11"><use href="#C1" x="604"/></g><g id="n43-12"><use href="#C1" x="656"/></g></g>
<g transform="translate(0,2298)"><g id="n44-1"><use href="#W0" x="84"/></g><g id="n44-2"><use href="#W0" x="136"/></g><g id="n44-3"><use href="#W0" x="188"/></g><g id="n44-4"><use href="#W0" x="240"/></g><g id="n44-5"><use href="#W0" x="292"/></g><g id="n44-6"><use href="#W0" x="344"/></g><g id="n44-7"><use href="#W0" x="396"/></g><g id="n44-8"><use href="#W0" x="448"/></g><g id="n44-9"><use href="#C0" x="500"/></g><g id="n44-10"><use href="#C0" x="552"/></g><g id="n44-11"><use href="#C0" x="604"/></g><g id="n44-12"><use href="#W0" x="656"/></g></g>
<g transform="translate(0,2350)"><g id="n45-1"><use href="#W1" x="84"/></g><g id="n45-2"><use href="#W1" x="136"/></g><g id="n45-3"><use href="#W1" x="188"/></g><g id="n45-4"><use href="#W1" x="240"/></g><g id="n45-5"><use href="#W1" x="292"/></g><g id="n45-6"><use href="#W1" x="344"/></g><g id="n45-7"><use href="#W1" x="396"/></g><g id="n45-8"><use href="#C1" x="448"/></g><g id="n45-9"><use href="#C1" x="500"/></g><g id="n45-10"><use href="#C1" x="552"/></g><g id="n45-11"><use href="#C1" x="604"/></g><g id="n45-12"><use href="#W1" x="656"/></g></g>
<g transform="translate(0,2402)"><g id="n46-1"><use href="#C0" x="84"/></g><g id="n46-2"><use href="#W0" x="136"/></g><g id="n46-3"><use href="#W0" x="188"/></g><g id="n46-4"><use href="#W0" x="240"/></g><g id="n46-5"><use href="#C0" x="292"/></g><g id="n46-6"><use href="#C0" x="344"/></g><g id="n46-7"><use href="#C0" x="396"/></g><g id="n46-8"><use href="#C0" x="448"/></g><g id="n46-9"><use href="#C0" x="500"/></g><g id="n46-10"><use href="#B0" x="552"/></g><g id="n46-11"><use href="#C0" x="604"/></g><g id="n46-12"><use href="#C0" x="656"/></g></g>
<g transform="translate(0,2454)"><g id="n47-1"><use href="#C1" x="84"/></g><g id="n47-2"><use href="#C1" x="136"/></g><g id="n47-3"><use href="#W1" x="188"/></g><g id="n47-4"><use href="#C1" x="240"/></g><g id="n47-5"><use href="#C1" x="292"/></g><g id="n47-6"><use href="#B1" x="344"/></g><g id="n47-7"><use href="#C1" x="396"/></g><g id="n47-8"><use href="#B1" x="448"/></g><g id="n47-9"><use href="#B1" x="500"/></g><g id="n47-10"><use href="#B1" x="552"/></g><g id="n47-11"><use href="#B1" x="604"/></g><g id="n47-12"><use href="#B1" x="656"/></g></g>
<g transform="translate(0,2506)"><g id="n48-1"><use href="#C0" x="84"/></g><g id="n48-2"><use href="#C0" x="136"/></g><g id="n48-3"><use href="#W0" x="188"/></g><g id="n48-4"><use href="#C0" x="240"/></g><g id="n48-5"><use href="#B0" x="292"/></g><g id="n48-6"><use href="#B0" x="344"/></g><g id="n48-7"><use href="#C0" x="396"/></g><g id="n48-8"><use href="#C0" x="448"/></g><g id="n48-9"><use href="#C0" x="500"/></g><g id="n48-10"><use href="#B0" x="552"/></g><g id="n48-11"><use href="#C0" x="604"/></g><g id="n48-12"><use href="#C0" x="656"/></g></g>
<g transform="translate(0,2558)"><g id="n49-1"><use href="#B1" x="84"/></g><g id="n49-2"><use href="#C1" x="136"/></g><g id="n49-3"><use href="#C1" x="188"/></g><g id="n49-4"><use href="#C1" x="240"/></g><g id="n49-5"><use href="#B1" x="292"/></g><g id="n49-6"><use href="#B1" x="344"/></g><g id="n49-7"><use href="#B1" x="396"/></g><g id="n49-8"><use href="#C1" x="448"/></g><g id="n49-9"><use href="#C1" x="500"/></g><g id="n49-10"><use href="#C1" x="552"/></g><g id="n49-11"><use href="#C1" x="604"/></g><g id="n49-12"><use href="#C1" x="656"/></g></g>
<g transform="translate(0,2610)"><g id="n50-1"><use href="#B0" x="84"/></g><g id="n50-2"><use href="#B0" x="136"/></g><g id="n50-3"><use href="#C0" x="188"/></g><g id="n50-4"><use href="#B0" x="240"/></g><g id="n50-5"><use href="#B0" x="292"/></g><g id="n50-6"><use href="#B0" x="344"/></g><g id="n50-7"><use href="#B0" x="396"/></g><g id="n50-8"><use href="#C0" x="448"/></g><g id="n50-9"><use href="#W0" x="500"/></g><g id="n50-10"><use href="#C0" x="552"/></g><g id="n50-11"><use href="#C0" x="604"/></g><g id="n50-12"><use href="#W0" x="656"/></g></g>
<g transform="translate(0,2662)"><g id="n51-1"><use href="#B1" x="84"/></g><g id="n51-2"><use href="#B1" x="136"/></g><g id="n51-3"><use href="#B1" x="188"/></g><g id="n51-4"><use href="#B1" x="240"/></g><g id="n51-5"><use href="#B1" x="292"/></g><g id="n51-6"><use href="#B1" x="344"/></g><g id="n51-7"><use href="#B1" x="396"/></g><g id="n51-8"><use href="#C1" x="448"/></g><g id="n51-9"><use href="#W1" x="500"/></g><g id="n51-10"><use href="#W1" x="552"/></g><g id="n51-11"><use href="#W1" x="604"/></g><g id="n51-12"><use href="#W1" x="656"/></g></g>
<g transform="translate(0,2714)"><g id="n52-1"><use href="#B0" x="84"/></g><g id="n52-2"><use href="#B0" x="136"/></g><g id="n52-3"><use href="#B0" x="188"/></g><g id="n52-4"><use href="#B0" x="240"/></g><g id="n52-5"><use href="#B0" x="292"/></g><g id="n52-6"><use href="#B0" x="344"/></g><g id="n52-7"><use href="#B0" x="396"/></g><g id="n52-8"><use href="#C0" x="448"/></g><g id="n52-9"><use href="#C0" x="500"/></g><g id="n52-10"><use href="#C0" x="552"/></g><g id="n52-11"><use href="#C0" x="604"/></g><g id="n52-12"><use href="#W0" x="656"/></g></g>
<g transform="translate(0,2766)"><g id="n53-1"><use href="#B1" x="84"/></g><g id="n53-2"><use href="#B1" x="136"/></g><g id="n53-3"><use href="#B1" x="188"/></g><g id="n53-4"><use href="#B1" x="240"/></g><g id="n53-5"><use href="#B1" x="292"/></g><g id="n53-6"><use href="#B1" x="344"/></g><g id="n53-7"><use href="#B1" x="396"/></g><g id="n53-8"><use href="#B1" x="448"/></g><g id="n53-9"><use href="#B1" x="500"/></g><g id="n53-10"><use href="#C1" x="552"/></g><g id="n53-11"><use href="#C1" x="604"/></g><g id="n53-12"><use href="#C1" x="656"/></g></g>
<g transform="translate(0,2818)"><g id="n54-1"><use href="#C0" x="84"/></g><g id="n54-2"><use href="#B0" x="136"/></g><g id="n54-3"><use href="#B0" x="188"/></g><g id="n54-4"><use href="#B0" x="240"/></g><g id="n54-5"><use href="#B0" x="292"/></g><g id="n54-6"><use href="#B0" x="344"/></g><g id="n54-7"><use href="#B0" x="396"/></g><g id="n54-8"><use href="#B0" x="448"/></g><g id="n54-9"><use href="#B0" x="500"/></g><g id="n54-10"><use href="#B0" x="552"/></g><g id="n54-11"><use href="#B0" x="604"/></g><g id="n54-12"><use href="#C0" x="656"/></g></g>
<g transform="translate(0,2870)"><g id="n55-1"><use href="#C1" x="84"/></g><g id="n55-2"><use href="#C1" x="136"/></g><g id="n55-3"><use href="#B1" x="188"/></g><g id="n55-4"><use href="#B1" x="240"/></g><g id="n55-5"><use href="#B1" x="292"/></g><g id="n55-6"><use href="#B1" x="344"/></g><g id="n55-7"><use href="#B1" x="396"/></g><g id="n55-8"><use href="#B1" x="448"/></g><g id="n55-9"><use href="#B1" x="500"/></g><g id="n55-10"><use href="#B1" x="552"/></g><g id="n55-11"><use href="#B1" x="604"/></g><g id="n55-12"><use href="#B1" x="656"/></g></g>
<g transform="translate(0,2922)"><g id="n56-1"><use href="#C0" x="84"/></g><g id="n56-2"><use href="#B0" x="136"/></g><g id="n56-3"><use href="#B0" x="188"/></g><g id="n56-4"><use href="#B0" x="240"/></g><g id="n56-5"><use href="#B0" x="292"/></g><g id="n56-6"><use href="#B0" x="344"/></g><g id="n56-7"><use href="#B0" x="396"/></g><g id="n56-8"><use href="#B0" x="448"/></g><g id="n56-9"><use href="#B0" x="500"/></g><g id="n56-10"><use href="#B0" x="552"/></g><g id="n56-11"><use href="#B0" x="604"/></g><g id="n56-12"><use href="#C0" x="656"/></g></g>
<g transform="translate(0,2974)"><g id="n57-1"><use href="#B1" x="84"/></g><g id="n57-2"><use href="#B1" x="136"/></g><g id="n57-3"><use href="#B1" x="188"/></g><g id="n57-4"><use href="#B1" x="240"/></g><g id="n57-5"><use href="#B1" x="292"/></g><g id="n57-6"><use href="#B1" x="344"/></g><g id="n57-7"><use href="#B1" x="396"/></g><g id="n57-8"><use href="#B1" x="448"/></g><g id="n57-9"><use href="#B1" x="500"/></g><g id="n57-10"><use href="#C1" x="552"/></g><g id="n57-11"><use href="#C1" x="604"/></g><g id="n57-12"><use href="#C1" x="656"/></g></g>
<g transform="translate(0,3026)"><g id="n58-1"><use href="#B0" x="84"/></g><g id="n58-2"><use href="#B0" x="136"/></g><g id="n58-3"><use href="#B0" x="188"/></g><g id="n58-4"><use href="#B0" x="240"/></g><g id="n58-5"><use href="#B0" x="292"/></g><g id="n58-6"><use href="#B0" x="344"/></g><g id="n58-7"><use href="#B0" x="396"/></g><g id="n58-8"><use href="#C0" x="448"/></g><g id="n58-9"><use href="#C0" x="500"/></g><g id="n58-10"><use href="#C0" x="552"/></g><g id="n58-11"><use href="#C0" x="604"/></g><g id="n58-12"><use href="#C0" x="656"/></g></g>
<g transform="translate(0,3078)"><g id="n59-1"><use href="#B1" x="84"/></g><g id="n59-2"><use href="#B1" x="136"/></g><g id="n59-3"><use href="#B1" x="188"/></g><g id="n59-4"><use href="#B1" x="240"/></g><g id="n59-5"><use href="#B1" x="292"/></g><g id="n59-6"><use href="#B1" x="344"/></g><g id="n59-7"><use href="#B1" x="396"/></g><g id="n59-8"><use href="#C1" x="448"/></g><g id="n59-9"><use href="#C1" x="500"/></g><g id="n59-10"><use href="#C1" x="552"/></g><g id="n59-11"><use href="#W1" x="604"/></g><g id="n59-12"><use href="#W1" x="656"/></g></g>
<g transform="translate(0,3130)"><g id="n60-1"><use href="#B0" x="84"/></g><g id="n60-2"><use href="#B0" x="136"/></g><g id="n60-3"><use href="#C0" x="188"/></g><g id="n60-4"><use href="#B0" x="240"/></g><g id="n60-5"><use href="#B0" x="292"/></g><g id="n60-6"><use href="#B0" x="344"/></g><g id="n60-7"><use href="#B0" x="396"/></g><g id="n60-8"><use href="#C0" x="448"/></g><g id="n60-9"><use href="#C0" x="500"/></g><g id="n60-10"><use href="#W0" x="552"/></g><g id="n60-11"><use href="#W0" x="604"/></g><g id="n60-12"><use href="#C0" x="656"/></g></g>
<g transform="translate(0,3182)"><g id="n61-1"><use href="#B1" x="84"/></g><g id="n61-2"><use href="#C1" x="136"/></g><g id="n61-3"><use href="#C1" x="188"/></g><g id="n61-4"><use href="#C1" x="240"/></g><g id="n61-5"><use href="#B1" x="292"/></g><g id="n61-6"><use href="#B1" x="344"/></g><g id="n61-7"><use href="#B1" x="396"/></g><g id="n61-8"><use href="#C1" x="448"/></g><g id="n61-9"><use href="#W1" x="500"/></g><g id="n61-10"><use href="#C1" x="552"/></g><g id="n61-11"><use href="#C1" x="604"/></g><g id="n61-12"><use href="#B1" x="656"/></g></g>
<g transform="translate(0,3234)"><g id="n62-1"><use href="#C0" x="84"/></g><g id="n62-2"><use href="#C0" x="136"/></g><g id="n62-3"><use href="#W0" x="188"/></g><g id="n62-4"><use href="#C0" x="240"/></g><g id="n62-5"><use href="#B0" x="292"/></g><g id="n62-6"><use href="#B0" x="344"/></g><g id="n62-7"><use href="#C0" x="396"/></g><g id="n62-8"><use href="#C0" x="448"/></g><g id="n62-9"><use href="#C0" x="500"/></g><g id="n62-10"><use href="#B0" x="552"/></g><g id="n62-11"><use href="#B0" x="604"/></g><g id="n62-12"><use href="#B0" x="656"/></g></g>
<g transform="translate(0,3286)"><g id="n63-1"><use href="#C1" x="84"/></g><g id="n63-2"><use href="#W1" x="136"/></g><g id="n63-3"><use href="#W1" x="188"/></g><g id="n63-4"><use href="#W1" x="240"/></g><g id="n63-5"><use href="#C1" x="292"/></g><g id="n63-6"><use href="#B1" x="344"/></g><g id="n63-7"><use href="#C1" x="396"/></g><g id="n63-8"><use href="#C1" x="448"/></g><g id="n63-9"><use href="#C1" x="500"/></g><g id="n63-10"><use href="#C1" x="552"/></g><g id="n63-11"><use href="#C1" x="604"/></g><g id="n63-12"><use href="#B1" x="656"/></g></g>
<g transform="translate(0,3338)"><g id="n64-1"><use href="#C0" x="84"/></g><g id="n64-2"><use href="#W0" x="136"/></g><g id="n64-3"><use href="#C0" x="188"/></g><g id="n64-4"><use href="#C0" x="240"/></g><g id="n64-5"><use href="#C0" x="292"/></g><g id="n64-6"><use href="#C0" x="344"/></g><g id="n64-7"><use href="#C0" x="396"/></g><g id="n64-8"><use href="#B0" x="448"/></g><g id="n64-9"><use href="#C0" x="500"/></g><g id="n64-10"><use href="#W0" x="552"/></g><g id="n64-11"><use href="#W0" x="604"/></g><g id="n64-12"><use href="#C0" x="656"/></g></g>
<g transform="translate(0,3390)"><g id="n65-1"><use href="#W1" x="84"/></g><g id="n65-2"><use href="#C1" x="136"/></g><g id="n65-3"><use href="#C1" x="188"/></g><g id="n65-4"><use href="#B1" x="240"/></g><g id="n65-5"><use href="#B1" x="292"/></g><g id="n65-6"><use href="#C1" x="344"/></g><g id="n65-7"><use href="#B1" x="396"/></g><g id="n65-8"><use href="#B1" x="448"/></g><g id="n65-9"><use href="#C1" x="500"/></g><g id="n65-10"><use href="#C1" x="552"/></g><g id="n65-11"><use href="#W1" x="604"/></g><g id="n65-12"><use href="#W1" x="656"/></g></g>
<g transform="translate(0,3442)"><g id="n66-1"><use href="#W0" x="84"/></g><g id="n66-2"><use href="#C0" x="136"/></g><g id="n66-3"><use href="#B0" x="188"/></g><g id="n66-4"><use href="#B0" x="240"/></g><g id="n66-5"><use href="#B0" x="292"/></g><g id="n66-6"><use href="#B0" x="344"/></g><g id="n66-7"><use href="#B0" x="396"/></g><g id="n66-8"><use href="#B0" x="448"/></g><g id="n66-9"><use href="#C0" x="500"/></g><g id="n66-10"><use href="#C0" x="552"/></g><g id="n66-11"><use href="#C0" x="604"/></g><g id="n66-12"><use href="#C0" x="656"/></g></g>
<g transform="translate(0,3494)"><g id="n67-1"><use href="#W1" x="84"/></g><g id="n67-2"><use href="#C1" x="136"/></g><g id="n67-3"><use href="#C1" x="188"/></g><g id="n67-4"><use href="#B1" x="240"/></g><g id="n67-5"><use href="#B1" x="292"/></g><g id="n67-6"><use href="#B1" x="344"/></g><g id="n67-7"><use href="#B1" x="396"/></g><g id="n67-8"><use href="#B1" x="448"/></g><g id="n67-9"><use href="#B1" x="500"/></g><g id="n67-10"><use href="#B1" x="552"/></g><g id="n67-11"><use href="#C1" x="604"/></g><g id="n67-12"><use href="#C1" x="656"/></g></g>
<g transform="translate(0,3546)"><g id="n68-1"><use href="#W0" x="84"/></g><g id="n68-2"><use href="#W0" x="136"/></g><g id="n68-3"><use href="#C0" x="188"/></g><g id="n68-4"><use href="#C0" x="240"/></g><g id="n68-5"><use href="#B0" x="292"/></g><g id="n68-6"><use href="#B0" x="344"/></g><g id="n68-7"><use href="#B0" x="396"/></g><g id="n68-8"><use href="#B0" x="448"/></g><g id="n68-9"><use href="#B0" x="500"/></g><g id="n68-10"><use href="#B0" x="552"/></g><g id="n68-11"><use href="#B0" x="604"/></g><g id="n68-12"><use href="#C0" x="656"/></g></g>
<g transform="translate(0,3598)"><g id="n69-1"><use href="#W1" x="84"/></g><g id="n69-2"><use href="#W1" x="136"/></g><g id="n69-3"><use href="#C1" x="188"/></g><g id="n69-4"><use href="#C1" x="240"/></g><g id="n69-5"><use href="#B1" x="292"/></g><g id="n69-6"><use href="#B1" x="344"/></g><g id="n69-7"><use href="#B1" x="396"/></g><g id="n69-8"><use href="#B1" x="448"/></g><g id="n69-9"><use href="#B1" x="500"/></g><g id="n69-10"><use href="#B1" x="552"/></g><g id="n69-11"><use href="#B1" x="604"/></g><g id="n69-12"><use href="#C1" x="656"/></g></g>
<g transform="translate(0,3650)"><g id="n70-1"><use href="#W0" x="84"/></g><g id="n70-2"><use href="#C0" x="136"/></g><g id="n70-3"><use href="#C0" x="188"/></g><g id="n70-4"><use href="#B0" x="240"/></g><g id="n70-5"><use href="#B0" x="292"/></g><g id="n70-6"><use href="#B0" x="344"/></g><g id="n70-7"><use href="#B0" x="396"/></g><g id="n70-8"><use href="#B0" x="448"/></g><g id="n70-9"><use href="#B0" x="500"/></g><g id="n70-10"><use href="#B0" x="552"/></g><g id="n70-11"><use href="#C0" x="604"/></g><g id="n70-12"><use href="#C0" x="656"/></g></g>
<g transform="translate(0,3702)"><g id="n71-1"><use href="#W1" x="84"/></g><g id="n71-2"><use href="#C1" x="136"/></g><g id="n71-3"><use href="#B1" x="188"/></g><g id="n71-4"><use href="#B1" x="240"/></g><g id="n71-5"><use href="#B1" x="292"/></g><g id="n71-6"><use href="#B1" x="344"/></g><g id="n71-7"><use href="#B1" x="396"/></g><g id="n71-8"><use href="#B1" x="448"/></g><g id="n71-9"><use href="#C1" x="500"/></g><g id="n71-10"><use href="#C1" x="552"/></g><g id="n71-11"><use href="#C1" x="604"/></g><g id="n71-12"><use href="#C1" x="656"/></g></g>
<g transform="translate(0,3754)"><g id="n72-1"><use href="#W0" x="84"/></g><g id="n72-2"><use href="#C0" x="136"/></g><g id="n72-3"><use href="#C0" x="188"/></g><g id="n72-4"><use href="#B0" x="240"/></g><g id="n72-5"><use href="#B0" x="292"/></g><g id="n72-6"><use href="#C0" x="344"/></g><g id="n72-7"><use href="#B0" x="396"/></g><g id="n72-8"><use href="#B0" x="448"/></g><g id="n72-9"><use href="#C0" x="500"/></g><g id="n72-10"><use href="#C0" x="552"/></g><g id="n72-11"><use href="#W0" x="604"/></g><g id="n72-12"><use href="#W0" x="656"/></g></g>
</g>
<g id="labels">
<path class="ld" d="M27 114h40M27 166h40M27 218h40M27 270h40M27 322h40M27 374h40M27 426h40M27 478h40M27 530h40M27 582h40M27 634h40M27 686h40M27 738h40M27 790h40M27 842h40M27 894h40M27 946h40M27 998h40M27 1050h40M27 1102h40M27 1154h40M27 1206h40M27 1258h40M27 1310h40M27 1362h40M27 1414h40M27 1466h40M27 1518h40M27 1570h40M27 1622h40M27 1674h40M27 1726h40M27 1778h40M27 1830h40M27 1882h40M27 1934h40M27 1986h40M27 2038h40M27 2090h40M27 2142h40M27 2194h40M27 2246h40M27 2298h40M27 2350h40M27 2402h40M27 2454h40M27 2506h40M27 2558h40M27 2610h40M27 2662h40M27 2714h40M27 2766h40M27 2818h40M27 2870h40M27 2922h40M27 2974h40M27 3026h40M27 3078h40M27 3130h40M27 3182h40M27 3234h40M27 3286h40M27 3338h40M27 3390h40M27 3442h40M27 3494h40M27 3546h40M27 3598h40M27 3650h40M27 3702h40M673 62h40M673 166h40M673 218h40M673 270h40M673 322h40M673 374h40M673 426h40M673 478h40M673 530h40M673 582h40M673 634h40M673 686h40M673 738h40M673 790h40M673 842h40M673 894h40M673 946h40M673 998h40M673 1050h40M673 1102h40M673 1154h40M673 1206h40M673 1258h40M673 1310h40M673 1362h40M673 1414h40M673 1466h40M673 1518h40M673 1570h40M673 1622h40M673 1674h40M673 1726h40M673 1778h40M673 1830h40M673 1882h40M673 1934h40M673 1986h40M673 2038h40M673 2090h40M673 2142h40M673 2194h40M673 2246h40M673 2298h40M673 2350h40M673 2402h40M673 2454h40M673 2506h40M673 2558h40M673 2610h40M673 2662h40M673 2714h40M673 2766h40M673 2818h40M673 2870h40M673 2922h40M673 2974h40M673 3026h40M673 3078h40M673 3130h40M673 3182h40M673 3234h40M673 3286h40M673 3338h40M673 3390h40M673 3442h40M673 3494h40M673 3546h40M673 3598h40M673 3650h40M673 3702h40M673 3754h40"/>
<g class="lb" text-anchor="end">
<text x="22" y="62">1</text><text x="22" y="114">2</text><text x="22" y="166">3</text><text x="22" y="218">4</text><text x="22" y="270">5</text><text x="22" y="322">6</text><text x="22" y="374">7</text><text x="22" y="426">8</text><text x="22" y="478">9</text><text x="22" y="530">10</text><text x="22" y="582">11</text><text x="22" y="634">12</text><text x="22" y="686">13</text><text x="22" y="738">14</text><text x="22" y="790">15</text><text x="22" y="842">16</text><text x="22" y="894">17</text><text x="22" y="946">18</text><text x="22" y="998">19</text><text x="22" y="1050">20</text><text x="22" y="1102">21</text><text x="22" y="1154">22</text><text x="22" y="1206">23</text><text x="22" y="1258">24</text><text x="22" y="1310">25</text><text x="22" y="1362">26</text><text x="22" y="1414">27</text><text x="22" y="1466">28</text><text x="22" y="1518">29</text><text x="22" y="1570">30</text><text x="22" y="1622">31</text><text x="22" y="1674">32</text><text x="22" y="1726">33</text><text x="22" y="1778">34</text><text x="22" y="1830">35</text><text x="22" y="1882">36</text><text x="22" y="1934">37</text><text x="22" y="1986">38</text><text x="22" y="2038">39</text><text x="22" y="2090">40</text><text x="22" y="2142">41</text><text x="22" y="2194">42</text><text x="22" y="2246">43</text><text x="22" y="2298">44</text><text x="22" y="2350">45</text><text x="22" y="2402">46</text><text x="22" y="2454">47</text><text x="22" y="2506">48</text><text x="22" y="2558">49</text><text x="22" y="2610">50</text><text x="22" y="2662">51</text><text x="22" y="2714">52</text><text x="22" y="2766">53</text><text x="22" y="2818">54</text><text x="22" y="2870">55</text><text x="22" y="2922">56</text><text x="22" y="2974">57</text><text x="22" y="3026">58</text><text x="22" y="3078">59</text><text x="22" y="3130">60</text><text x="22" y="3182">61</text><text x="22" y="3234">62</text><text x="22" y="3286">63</text><text x="22" y="3338">64</text><text x="22" y="3390">65</text><text x="22" y="3442">66</text><text x="22" y="3494">67</text><text x="22" y="3546">68</text><text x="22" y="3598">69</text><text x="22" y="3650">70</text><text x="22" y="3702">71</text><text x="22" y="3754">72</text>
</g>
<g class="lb">
<text x="718" y="62">1</text><text x="718" y="114">2</text><text x="718" y="166">3</text><text x="718" y="218">4</text><text x="718" y="270">5</text><text x="718" y="322">6</text><text x="718" y="374">7</text><text x="718" y="426">8</text><text x="718" y="478">9</text><text x="718" y="530">10</text><text x="718" y="582">11</text><text x="718" y="634">12</text><text x="718" y="686">13</text><text x="718" y="738">14</text><text x="718" y="790">15</text><text x="718" y="842">16</text><text x="718" y="894">17</text><text x="718" y="946">18</text><text x="718" y="998">19</text><text x="718" y="1050">20</text><text x="718" y="1102">21</text><text x="718" y="1154">22</text><text x="718" y="1206">23</text><text x="718" y="1258">24</text><text x="718" y="1310">25</text><text x="718" y="1362">26</text><text x="718" y="1414">27</text><text x="718" y="1466">28</text><text x="718" y="1518">29</text><text x="718" y="1570">30</text><text x="718" y="1622">31</text><text x="718" y="1674">32</text><text x="718" y="1726">33</text><text x="718" y="1778">34</text><text x="718" y="1830">35</text><text x="718" y="1882">36</text><text x="718" y="1934">37</text><text x="718" y="1986">38</text><text x="718" y="2038">39</text><text x="718" y="2090">40</text><text x="718" y="2142">41</text><text x="718" y="2194">42</text><text x="718" y="2246">43</text><text x="718" y="2298">44</text><text x="718" y="2350">45</text><text x="718" y="2402">46</text><text x="718" y="2454">47</text><text x="718" y="2506">48</text><text x="718" y="2558">49</text><text x="718" y="2610">50</text><text x="718" y="2662">51</text><text x="718" y="2714">52</text><text x="718" y="2766">53</text><text x="718" y="2818">54</text><text x="718" y="2870">55</text><text x="718" y="2922">56</text><text x="718" y="2974">57</text><text x="718" y="3026">58</text><text x="718" y="3078">59</text><text x="718" y="3130">60</text><text x="718" y="3182">61</text><text x="718" y="3234">62</text><text x="718" y="3286">63</text><text x="718" y="3338">64</text><text x="718" y="3390">65</text><text x="718" y="3442">66</text><text x="718" y="3494">67</text><text x="718" y="3546">68</text><text x="718" y="3598">69</text><text x="718" y="3650">70</text><text x="718" y="3702">71</text><text x="718" y="3754">72</text>
</g>
<text x="371" y="1908" text-anchor="middle" class="wm" textLength="156" lengthAdjust="spacingAndGlyphs">BRACELETBOOK.COM</text>
</g>
</svg>
